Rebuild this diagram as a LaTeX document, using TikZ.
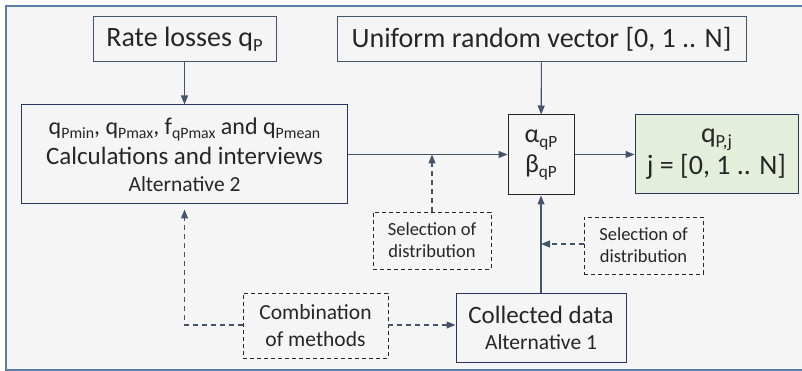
\documentclass[tikz,border=0pt]{standalone}
\usepackage{fontspec}
\setmainfont{Carlito}
\usepackage{graphicx}
\usetikzlibrary{arrows.meta}
\definecolor{frameblue}{HTML}{5B7EA9}
\definecolor{paneback}{HTML}{F5F5F5}
\definecolor{linkgray}{HTML}{44546A}
\definecolor{boxnavy}{HTML}{2B3561}
\definecolor{resgreen}{HTML}{E4EFDB}
\definecolor{inkgray}{HTML}{262626}
\newcommand{\lowsub}[1]{\raisebox{-0.35ex}{\scalebox{0.66}{#1}}}
\newcommand{\fs}[2]{\fontsize{#1}{#2}\selectfont}

\begin{document}
\begin{tikzpicture}[x=1pt,y=-1pt,
    box/.style={draw=boxnavy, line width=1pt, fill=paneback, text=inkgray,
      inner sep=0pt, align=center, font=\fs{25}{27}},
    resbox/.style={box, fill=resgreen},
    notebox/.style={draw=inkgray, line width=0.9pt, dashed, dash pattern=on 4pt off 3pt,
      fill=paneback, text=inkgray, inner sep=0pt, align=center},
    link/.style={draw=linkgray, line width=1.1pt, -{Triangle[length=9pt,width=7pt]}},
    dlink/.style={link, dash pattern=on 5pt off 4pt}]
  \useasboundingbox (0,0) rectangle (802,371);
  \begin{scope}
    \clip (0,0) rectangle (802,371);
    \draw[frameblue, line width=2pt, fill=paneback] (6,6) rectangle (812,370);
  \end{scope}

  \draw
    (184.5,39.5) node[box, draw=linkgray, minimum width=183, minimum height=45, font=\fs{28}{30}] (rate)
      {Rate losses q\lowsub{P}}
    (541.5,39.5) node[box, draw=linkgray, minimum width=409, minimum height=45, font=\fs{28}{30}] (unif)
      {Uniform random vector [0, 1 .. N]}
    (184.5,154.5) node[box, minimum width=326, minimum height=99] (calc)
      {{\fs{24}{26}q\lowsub{Pmin}, q\lowsub{Pmax}, f\lowsub{qPmax} and q\lowsub{Pmean}}\\[3pt]
       Calculations and interviews\\[0pt]
       {\fs{21.5}{23}Alternative 2}}
    (541,155) node[box, draw=black!85, minimum width=66, minimum height=80, font=\fs{26}{28}] (ab)
      {α\lowsub{qP}\\[2pt]β\lowsub{qP}}
    (716.5,154.5) node[resbox, minimum width=163, minimum height=79, font=\fs{28}{30}] (res)
      {q\lowsub{P,j}\\[2pt]j = [0, 1 .. N]}
    (432,240.5) node[notebox, minimum width=118, minimum height=57, font=\fs{18.5}{22}] (sel1)
      {Selection of\\distribution}
    (643.5,245.5) node[notebox, minimum width=119, minimum height=57, font=\fs{18.5}{22}] (sel2)
      {Selection of\\distribution}
    (315.5,325.5) node[notebox, minimum width=145, minimum height=65, font=\fs{21.5}{27}] (comb)
      {Combination\\of methods}
    (541,327.5) node[box, minimum width=170, minimum height=69] (coll)
      {Collected data\\[-1pt]{\fs{21.5}{23}Alternative 1}};

  \begin{scope}
    \draw[link] (rate) to (calc);
    \draw[link] (unif) to (ab);
    \draw[link] (calc.east) to (calc.east -| ab.west);
    \draw[link] (ab.east |- res.west) to (res.west);
    \draw[link] (coll) to (ab);
    \draw[dlink] (sel1.north) to (sel1.north |- calc.east);
    \draw[dlink] (sel2.west |- 0,244) to (coll.north |- 0,244);
    \draw[dlink] (comb.west |- 0,325) -| ([yshift=-5pt]calc.south);
    \draw[dlink] (comb.east |- 0,325) to (coll.west |- 0,325);
  \end{scope}
\end{tikzpicture}
\end{document}
